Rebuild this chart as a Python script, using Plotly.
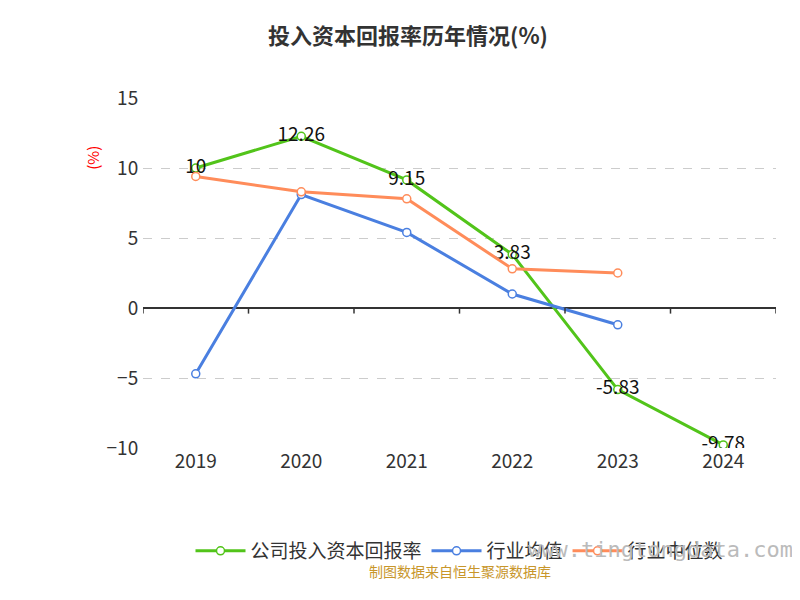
import plotly.graph_objects as go

years = ["2019", "2020", "2021", "2022", "2023", "2024"]
company = [10, 12.26, 9.15, 3.83, -5.83, -9.78]
industry_avg = [-4.7, 8.1, 5.4, 1.0, -1.2, None]
industry_median = [9.4, 8.3, 7.8, 2.8, 2.5, None]
company_labels = ["10", "12.26", "9.15", "3.83", "-5.83", "-9.78"]

font = "Noto Sans CJK SC"
fig = go.Figure()

def add(name, y, color, text=None):
    fig.add_trace(go.Scatter(
        x=years, y=y, name=name,
        mode="lines+markers+text" if text else "lines+markers",
        text=text, textposition="middle center",
        textfont=dict(size=19, color="#111", family=font),
        line=dict(color=color, width=3),
        marker=dict(size=8, color="white", line=dict(color=color, width=1.5)),
        connectgaps=False,
    ))

add("公司投入资本回报率", company, "#52c41a", company_labels)
add("行业均值", industry_avg, "#4a7fe0")
add("行业中位数", industry_median, "#ff8c5a")

fig.update_layout(
    width=800, height=600,
    plot_bgcolor="white", paper_bgcolor="white",
    font=dict(family=font, size=18, color="#333"),
    title=dict(text="<b>投入资本回报率历年情况(%)</b>", x=0.5, y=0.965,
               xanchor="center", font=dict(size=22, color="#333")),
    margin=dict(l=135, r=32, t=90, b=160),
    showlegend=True,
    legend=dict(orientation="h", x=0.5, xanchor="center", y=-0.24, yanchor="top",
                font=dict(size=19), itemwidth=50),
    xaxis=dict(type="category", showgrid=False, ticks="", range=[-0.5, 5.5],
               tickfont=dict(size=19)),
    yaxis=dict(range=[-10, 15], tickvals=[-10, -5, 0, 5, 10, 15], showgrid=True,
               gridcolor="#ccc", griddash="dash", zeroline=True,
               zerolinecolor="#333", zerolinewidth=1.5, ticks="outside",
               ticklen=0, tickfont=dict(size=19), showline=False),
    annotations=[
        dict(text="(%)", x=-0.1, y=0.87, xref="paper", yref="paper", textangle=-90,
             showarrow=False, font=dict(color="red", size=15)),
        dict(text="制图数据来自恒生聚源数据库", x=0.5, y=-0.385, xref="paper", yref="paper",
             showarrow=False, font=dict(color="#c8962a", size=14)),
        dict(text="www.tingtongdata.com", x=1.03, y=-0.33, xref="paper", yref="paper",
             xanchor="right", showarrow=False,
             font=dict(color="#bbb", size=22, family="DejaVu Sans Mono")),
    ],
)
for i in range(7):
    fig.add_shape(type="line", xref="x", yref="y", x0=i - 0.5, x1=i - 0.5, y0=0, y1=-0.4,
                  line=dict(color="#333", width=1.5))

fig.write_html("out.html")
